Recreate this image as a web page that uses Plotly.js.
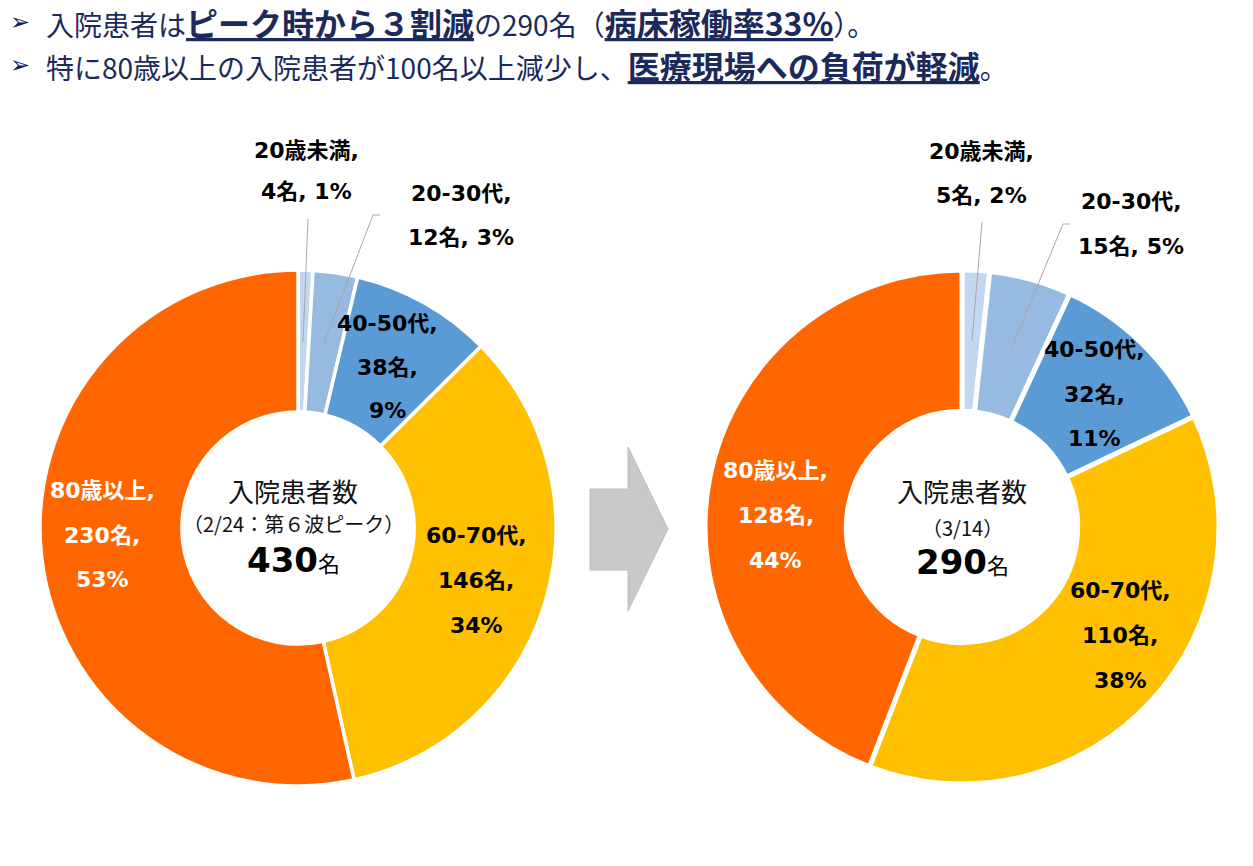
<!DOCTYPE html>
<html><head><meta charset="utf-8">
<script src="https://cdn.plot.ly/plotly-3.0.1.min.js"></script>
<style>html,body{margin:0;padding:0;background:#fff;} #chart{width:1253px;height:866px;}</style>
</head><body><div id="chart"></div>
<script>
// ---- data ----
const categories = ['20歳未満', '20-30代', '40-50代', '60-70代', '80歳以上'];
const peakValues = [4, 12, 38, 146, 230];
const currentValues = [5, 15, 32, 110, 128];
const centerTitle = '入院患者数';
const peakDateLabel = '（2/24：第６波ピーク）';
const currentDateLabel = '（3/14）';
const countUnit = '名';
const headline1 = '入院患者は<b><u>ピーク時から３割減</u></b>の290名（<b><u>病床稼働率33%</u></b>）。';
const headline2 = '特に80歳以上の入院患者が100名以上減少し、<b><u>医療現場への負荷が軽減</u></b>。';

// ---- style / layout ----
const W = 1253, H = 866;
const px = x => x / W;
const py = y => 1 - y / H;
const sliceColors = ['#C3D7EF', '#97BAE1', '#5B9BD5', '#FFC000', '#FF6600'];
const labelColors = ['#000', '#000', '#000', '#000', '#FFFFFF'];
const numFont = 'DejaVu Sans, Noto Sans CJK JP, sans-serif';
const jpFont = 'Noto Sans CJK JP, DejaVu Sans, sans-serif';
const navy = '#0A1F5C';

function domainFor(cx, cy, r) {
  return { x: [px(cx - r), px(cx + r)], y: [py(cy + r), py(cy - r)] };
}

const pies = [
  { values: peakValues, cx: 298, cy: 528, r: 258, lineW: 3.5,
    textX: 293, titleY: 490, dateY: 523, totalY: 560, dateLabel: peakDateLabel,
    labels: [ {x: 306, ys: [150, 192]}, {x: 461, ys: [193, 237]}, {x: 388, ys: [323, 367, 410]},
              {x: 476, ys: [535, 580, 625]}, {x: 102, ys: [490, 535, 579]} ],
    leaders: [ [[303, 342], [308, 219]], [[324, 343], [373, 215], [380, 215]] ] },
  { values: currentValues, cx: 962, cy: 527, r: 257, lineW: 5,
    textX: 962, titleY: 490, dateY: 527, totalY: 562, dateLabel: currentDateLabel,
    labels: [ {x: 981, ys: [152, 195]}, {x: 1131, ys: [202, 246]}, {x: 1094, ys: [350, 394, 438]},
              {x: 1120, ys: [590, 635, 680]}, {x: 776, ys: [470, 515, 560]} ],
    leaders: [ [[972, 341], [982, 222]], [[1012, 347], [1063, 224], [1070, 224]] ] }
];

const traces = [];
const annotations = [];
const shapes = [];

pies.forEach(p => {
  const total = p.values.reduce((a, b) => a + b, 0);
  traces.push({
    type: 'pie', values: p.values, labels: categories, sort: false,
    direction: 'clockwise', rotation: 0, hole: 0.45,
    domain: domainFor(p.cx, p.cy, p.r),
    marker: { colors: sliceColors, line: { color: '#FFFFFF', width: p.lineW } },
    textinfo: 'none', hoverinfo: 'label+value+percent', showlegend: false
  });
  p.values.forEach((v, i) => {
    const pct = Math.round(v / total * 100);
    const L = p.labels[i];
    const lines = L.ys.length === 2
      ? [categories[i] + ',', v + countUnit + ', ' + pct + '%']
      : [categories[i] + ',', v + countUnit + ',', pct + '%'];
    lines.forEach((t, k) => annotations.push({
      xref: 'paper', yref: 'paper', x: px(L.x), y: py(L.ys[k]), xanchor: 'center', yanchor: 'middle',
      text: '<b>' + t + '</b>', showarrow: false,
      font: { family: numFont, size: 22, color: labelColors[i] }
    }));
  });
  p.leaders.forEach(pts => {
    shapes.push({ type: 'path', xref: 'paper', yref: 'paper',
      path: pts.map((q, k) => (k ? 'L' : 'M') + px(q[0]) + ',' + py(q[1])).join(' '),
      line: { color: '#A6A6A6', width: 1 } });
  });
  annotations.push({ xref: 'paper', yref: 'paper', x: px(p.textX), y: py(p.titleY), xanchor: 'center', yanchor: 'middle',
    text: centerTitle, showarrow: false, font: { family: jpFont, size: 26, color: '#111' } });
  annotations.push({ xref: 'paper', yref: 'paper', x: px(p.textX), y: py(p.dateY), xanchor: 'center', yanchor: 'middle',
    text: p.dateLabel, showarrow: false, font: { family: jpFont, size: 20, color: '#111' } });
  annotations.push({ xref: 'paper', yref: 'paper', x: px(p.textX), y: py(p.totalY), xanchor: 'center', yanchor: 'middle',
    text: '<b>' + total + '</b><span style="font-size:22px;font-weight:normal">' + countUnit + '</span>', showarrow: false,
    font: { family: numFont, size: 34, color: '#000' } });
});

// arrow between the two charts
const arrowPts = [[590, 489], [628, 489], [628, 447], [668, 529], [628, 611], [628, 570], [590, 570]];
shapes.push({ type: 'path', xref: 'paper', yref: 'paper',
  path: arrowPts.map((q, k) => (k ? 'L' : 'M') + px(q[0]) + ',' + py(q[1])).join(' ') + ' Z',
  fillcolor: '#C9C9C9', line: { color: '#BDBDBD', width: 1 } });

// headline text
[[headline1, 22], [headline2, 65]].forEach(([t, y]) => {
  annotations.push({ xref: 'paper', yref: 'paper', x: px(8), y: py(y), xanchor: 'left', yanchor: 'middle',
    text: '➢', showarrow: false, font: { family: 'DejaVu Sans', size: 24, color: navy } });
  annotations.push({ xref: 'paper', yref: 'paper', x: px(44), y: py(y), xanchor: 'left', yanchor: 'middle',
    text: t.replace(/<b>/g, '<b style="font-size:32px">'), showarrow: false,
    font: { family: jpFont, size: 28, color: '#1B2A5A' } });
});

Plotly.newPlot('chart', traces, {
  width: W, height: H, margin: { l: 0, r: 0, t: 0, b: 0 },
  paper_bgcolor: '#FFFFFF', plot_bgcolor: '#FFFFFF',
  annotations, shapes
}, { staticPlot: true });
</script></body></html>
